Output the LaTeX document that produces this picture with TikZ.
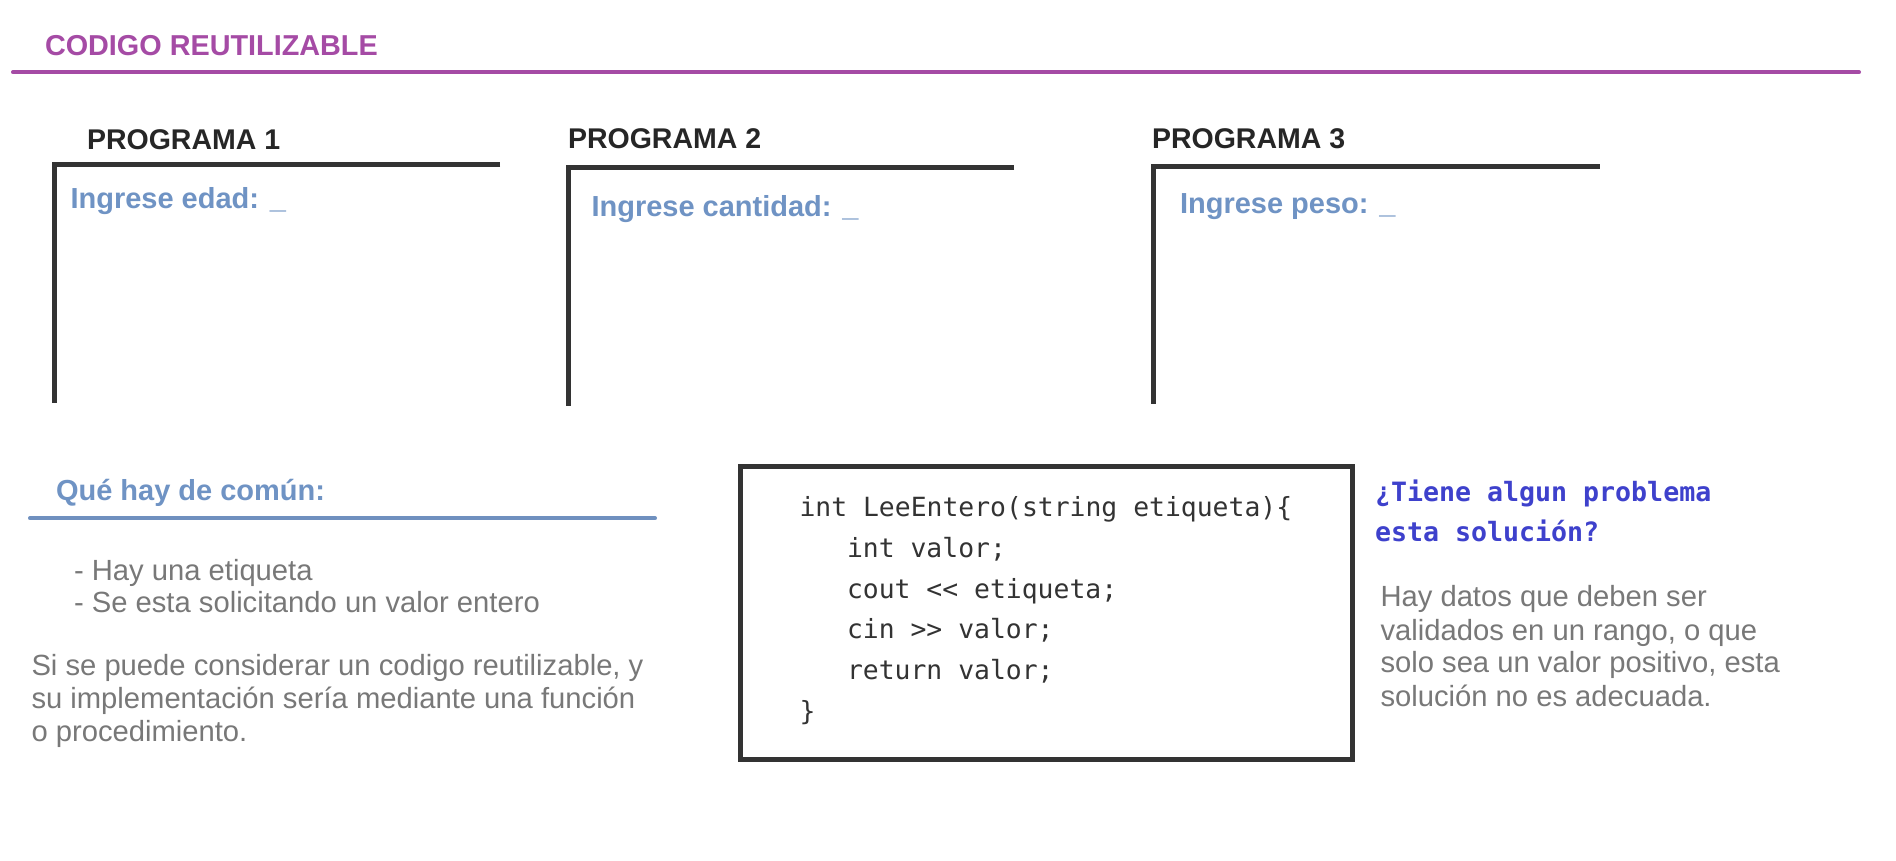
\documentclass[tikz,border=0pt]{standalone}
\usepackage{fontspec}
\setmainfont{Liberation Sans}
\newfontfamily\codefont{DejaVu Sans Mono}
\definecolor{titlepurple}{HTML}{A54BA5}
\definecolor{promptblue}{HTML}{6F93C4}
\definecolor{lineblue}{HTML}{6F90BF}
\definecolor{textgray}{HTML}{787878}
\definecolor{askblue}{HTML}{3E41CC}
\definecolor{darkline}{HTML}{333333}
\definecolor{headdark}{HTML}{262626}
\tikzset{
  txt/.style={anchor=base west, inner sep=0pt, outer sep=0pt},
  titletxt/.style={txt, text=titlepurple, font=\fontsize{28.8}{33}\selectfont\bfseries},
  headtxt/.style={txt, text=headdark, font=\fontsize{28.5}{33}\selectfont\bfseries},
  prompttxt/.style={txt, text=promptblue, font=\fontsize{29}{33}\selectfont\bfseries},
  bodytxt/.style={txt, text=textgray, font=\fontsize{29.2}{33}\selectfont},
  codetxt/.style={txt, text=darkline, font=\codefont\fontsize{26.4}{40}\selectfont},
  asktxt/.style={txt, text=askblue, font=\codefont\bfseries\fontsize{26.6}{40}\selectfont},
  screen/.style={draw=darkline, line width=4.5pt, miter limit=10},
}
\begin{document}
\begin{tikzpicture}[x=1pt, y=-1pt]
\useasboundingbox[fill=white] (0,0) rectangle (1896,860);

% title
\node[titletxt] (title) at (45,55.7) {CODIGO REUTILIZABLE};
\coordinate (tl) at (13,72.3);
\coordinate (tr) at (1859,72.3);
\draw[titlepurple, line width=4pt, line cap=round] (tl) -- (tr);

% programs
\node[headtxt] (p1) at (87,149) {PROGRAMA 1};
\node[headtxt] (p2) at (568,148.5) {PROGRAMA 2};
\node[headtxt] (p3) at (1152,148.5) {PROGRAMA 3};

\coordinate (b1a) at (500,164.3);
\coordinate (b1b) at (54.7,164.3);
\coordinate (b1c) at (54.7,402.7);
\draw[screen] (b1a) -- (b1b) -- (b1c);
\coordinate (b2a) at (1014,167.5);
\coordinate (b2b) at (568.5,167.5);
\coordinate (b2c) at (568.5,405.7);
\draw[screen] (b2a) -- (b2b) -- (b2c);
\coordinate (b3a) at (1599.7,166.5);
\coordinate (b3b) at (1153.3,166.5);
\coordinate (b3c) at (1153.3,404);
\draw[screen] (b3a) -- (b3b) -- (b3c);

\node[prompttxt] (in1) at (70.5,208.3) {Ingrese edad: \_};
\node[prompttxt] (in2) at (591.5,216.7) {Ingrese cantidad: \_};
\node[prompttxt] (in3) at (1180,213.3) {Ingrese peso: \_};

% common
\node[prompttxt] (comun) at (56,500) {Qué hay de común:};
\coordinate (cl) at (30,518.3);
\coordinate (cr) at (655,518.3);
\draw[lineblue, line width=4pt, line cap=round] (cl) -- (cr);

\node[bodytxt] (bul1) at (74,580.7) {- Hay una etiqueta};
\node[bodytxt] (bul2) at (74,612.7) {- Se esta solicitando un valor entero};

\node[bodytxt] (par1) at (31.5,675) {Si se puede considerar un codigo reutilizable, y};
\node[bodytxt] (par2) at (31.5,708.3) {su implementación sería mediante una función};
\node[bodytxt] (par3) at (31.5,741.7) {o procedimiento.};

% code box
\coordinate (cba) at (740.7,466.7);
\coordinate (cbb) at (1352.5,759);
\draw[darkline, line width=5pt] (cba) rectangle (cbb);

\node[codetxt] (c1) at (799.5,516.7) {int LeeEntero(string etiqueta)\{};
\node[codetxt] (c2) at (847,557.3) {int valor;};
\node[codetxt] (c3) at (847,598) {cout << etiqueta;};
\node[codetxt] (c4) at (847,638.7) {cin >> valor;};
\node[codetxt] (c5) at (847,679.3) {return valor;};
\node[codetxt] (c6) at (799.5,720) {\}};

% question
\node[asktxt] (q1) at (1375,501.7) {¿Tiene algun problema};
\node[asktxt] (q2) at (1375,541.7) {esta solución?};

\node[bodytxt] (a1) at (1380.5,606.7) {Hay datos que deben ser};
\node[bodytxt] (a2) at (1380.5,640) {validados en un rango, o que};
\node[bodytxt] (a3) at (1380.5,672.7) {solo sea un valor positivo, esta};
\node[bodytxt] (a4) at (1380.5,706) {solución no es adecuada.};
\end{tikzpicture}
\end{document}
